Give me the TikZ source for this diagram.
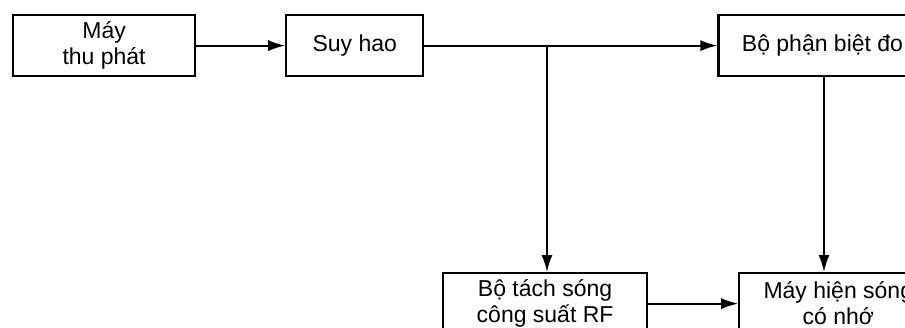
\documentclass[tikz,border=0pt]{standalone}
\usepackage{fontspec}
\setmainfont{Liberation Sans}
\usetikzlibrary{positioning}
\usetikzlibrary{arrows.meta}

\tikzset{
    block/.style={draw, line width=2.2pt, minimum height=61pt, inner sep=0pt,
        align=center, font=\fontsize{23}{26}\selectfont},
    wire/.style={line width=1.9pt, -{Latex[length=17pt, width=11pt]}}
}

\begin{document}
\begin{tikzpicture}[x=1pt, y=-1pt]
    \useasboundingbox (0,0) rectangle (905,327);
    \clip (0,0) rectangle (905,327);
    \node[block, minimum width=182pt, anchor=north west] (tx) at (12,14) {Máy\\thu phát};
    \node[block, minimum width=137pt, right=89pt of tx] (atten) {Suy hao};
    \node[block, minimum width=208pt, right=293pt of atten] (disc) {Bộ phận biệt đo};
    \node[block, minimum width=204pt, anchor=north west] (det) at (442,272) {Bộ tách sóng\\công suất RF};
    \node[block, minimum width=198pt, right=90pt of det] (scope) {Máy hiện sóng\\có nhớ};
    \coordinate (split) at (547,44.5);
    \coordinate (drop) at (824,75);
    \draw[wire] (tx) -- (atten);
    \draw[wire] (atten) -- (disc);
    \draw[wire] (split) -- (split |- det.north);
    \draw[wire] (disc.south -| drop) -- (scope.north -| drop);
    \draw[wire] (det) -- (scope);
\end{tikzpicture}
\end{document}
